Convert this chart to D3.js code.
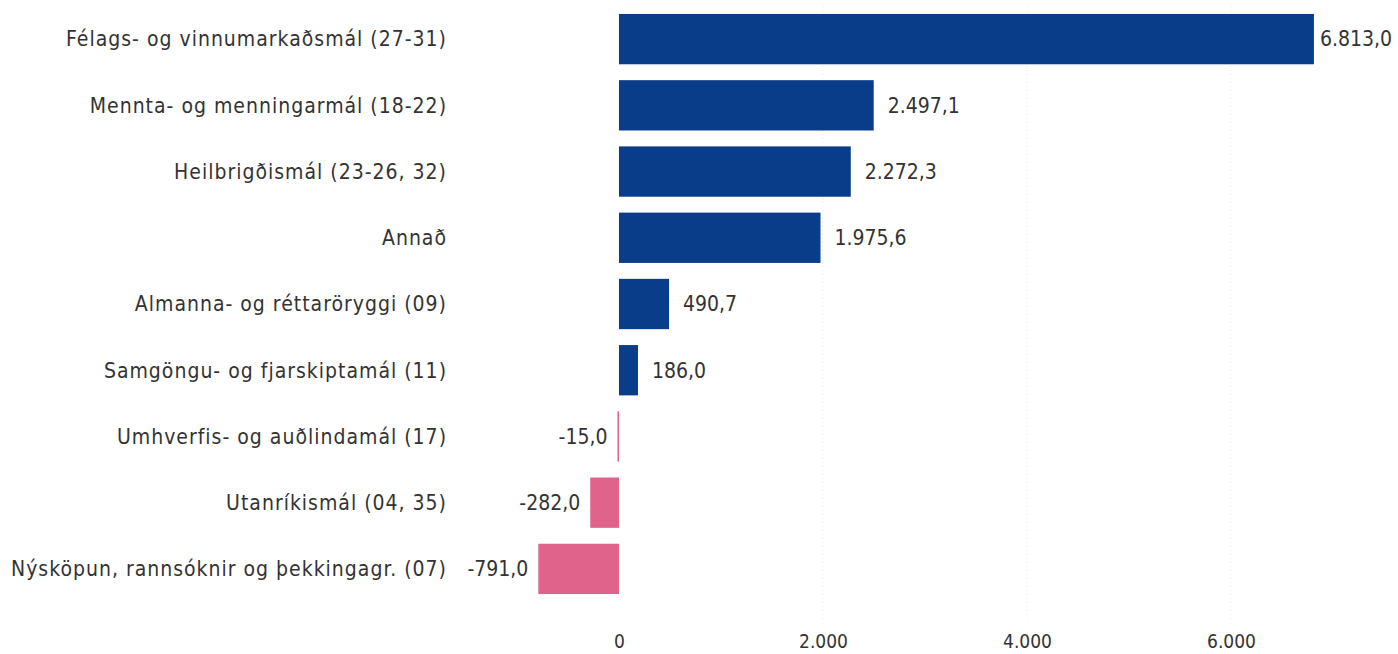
<!DOCTYPE html>
<html lang="en">
<head>
    <meta charset="UTF-8">
    <title>Breyting útgjalda eftir málefnasviðum</title>
    <style>
        body, html {
            margin: 0;
            padding: 0;
            background-color: #fff;
        }
        svg text {
            font-family: "DejaVu Sans Condensed", "DejaVu Sans", sans-serif;
            fill: #333;
        }
    </style>
</head>
<body>
    <div id="chart"></div>

    <script src="https://d3js.org/d3.v7.min.js"></script>
    <script>
        const categories = [
            "Félags- og vinnumarkaðsmál (27-31)",
            "Mennta- og menningarmál (18-22)",
            "Heilbrigðismál (23-26, 32)",
            "Annað",
            "Almanna- og réttaröryggi (09)",
            "Samgöngu- og fjarskiptamál (11)",
            "Umhverfis- og auðlindamál (17)",
            "Utanríkismál (04, 35)",
            "Nýsköpun, rannsóknir og þekkingagr. (07)"
        ];
        const values = [6813.0, 2497.1, 2272.3, 1975.6, 490.7, 186.0, -15.0, -282.0, -791.0];
        const tickValues = [0, 2000, 4000, 6000];

        const width = 1398, height = 654;
        const zeroX = 619;

        const locale = d3.formatLocale({ decimal: ",", thousands: ".", grouping: [3], currency: ["", ""], minus: "-" });
        const fmtVal = locale.format(",.1f");
        const fmtTick = locale.format(",.0f");

        const svg = d3.select("#chart")
            .append("svg")
            .attr("width", width)
            .attr("height", height);

        // about 102 px per 1000
        const x = d3.scaleLinear()
            .domain([-791, 6813])
            .range([zeroX - 791 * 0.102, zeroX + 6813 * 0.102]);

        const y = d3.scaleBand()
            .domain(categories)
            .range([6, 602])
            .paddingInner(0.24)
            .paddingOuter(0.12);

        // faint dotted gridlines
        svg.append("g")
            .selectAll("line")
            .data(tickValues.filter(d => d !== 0))
            .join("line")
            .attr("x1", d => x(d))
            .attr("x2", d => x(d))
            .attr("y1", 6)
            .attr("y2", 622)
            .attr("stroke", "#e8e8e8")
            .attr("stroke-dasharray", "1,3");

        // bars
        svg.append("g")
            .selectAll("rect")
            .data(values)
            .join("rect")
            .attr("x", d => x(Math.min(0, d)))
            .attr("y", (d, i) => y(categories[i]))
            .attr("width", d => Math.max(1.5, Math.abs(x(d) - x(0))))
            .attr("height", y.bandwidth())
            .attr("fill", d => d >= 0 ? "#0a3d89" : "#e0638b");

        // category labels
        svg.append("g")
            .selectAll("text")
            .data(categories)
            .join("text")
            .attr("x", 447)
            .attr("y", d => y(d) + y.bandwidth() / 2)
            .attr("dy", "0.35em")
            .attr("text-anchor", "end")
            .attr("font-size", "21px")
            .attr("letter-spacing", "1px")
            .text(d => d);

        // value labels (kept inside the right edge)
        svg.append("g")
            .selectAll("text")
            .data(values)
            .join("text")
            .attr("x", d => d >= 0 ? Math.min(x(d) + 14, width - 78) : x(d) - 10)
            .attr("y", (d, i) => y(categories[i]) + y.bandwidth() / 2)
            .attr("dy", "0.35em")
            .attr("text-anchor", d => d >= 0 ? "start" : "end")
            .attr("font-size", "21px")
            .text(d => fmtVal(d));

        // x axis
        const axis = svg.append("g")
            .attr("transform", "translate(0,635)")
            .call(d3.axisBottom(x).tickValues(tickValues).tickFormat(fmtTick).tickSize(0));
        axis.select(".domain").remove();
        axis.selectAll("text")
            .attr("font-size", "19px")
            .attr("font-family", null)
            .attr("fill", null)
            .attr("dy", "0.35em")
            .attr("y", 6);
    </script>
</body>
</html>
